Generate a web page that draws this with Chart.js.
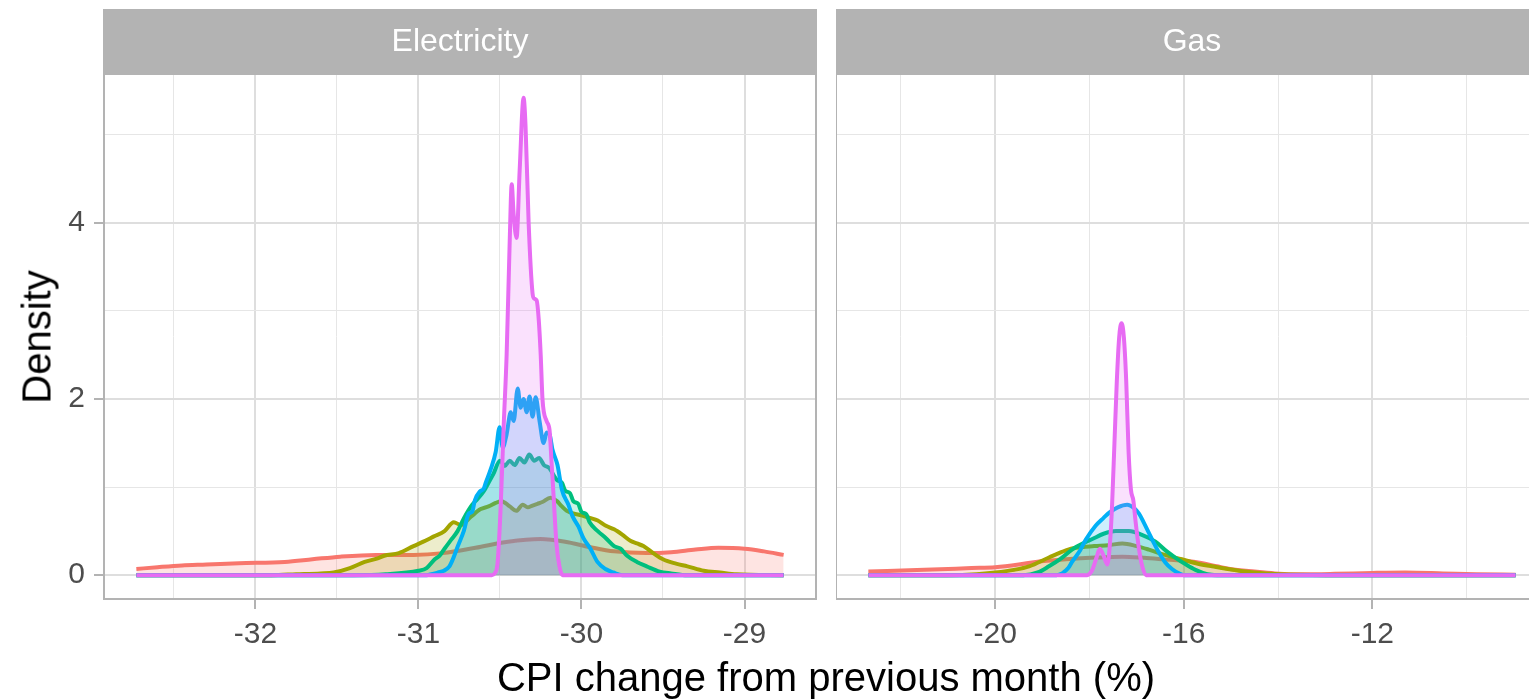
<!DOCTYPE html>
<html><head><meta charset="utf-8">
<script src="https://cdn.jsdelivr.net/npm/chart.js@4.4.1/dist/chart.umd.min.js"></script>
<style>
html,body{margin:0;padding:0;overflow:hidden;background:#fff;width:1529px;height:700px;}
#c1{position:absolute;left:0;top:0;}
#c2{position:absolute;left:836px;top:0;}
.t{position:absolute;font-family:"Liberation Sans",Arial,Helvetica,sans-serif;color:#000;white-space:nowrap;line-height:normal;}
</style></head><body>
<canvas id="c1" width="818" height="700"></canvas>
<canvas id="c2" width="722" height="700"></canvas>
<div class="t" style="left:826px;top:655px;font-size:40px;transform:translateX(-50%);">CPI change from previous month (%)</div>
<div class="t" style="left:37px;top:337px;font-size:40px;transform:translate(-50%,-50%) rotate(-90deg);">Density</div>
<script>
const FONT = '"Liberation Sans", Arial, Helvetica, sans-serif';
const seriesNames = ['Series 1','Series 2','Series 3','Series 4','Series 5'];
const seriesColors = ['#F8766D','#A3A500','#00BF7D','#00B0F6','#E76BF3'];
const panelTitles = ['Electricity','Gas'];

const elecTicksMajor = [-32,-31,-30,-29];
const elecTicksMinor = [-32.5,-31.5,-30.5,-29.5];
const gasTicksMajor = [-20,-16,-12];
const gasTicksMinor = [-22,-18,-14,-10];
const yTicksMajor = [0,2,4];
const yTicksMinor = [1,3,5];

// Electricity panel
const elecRedX = [-32.73,-32.6,-32.45,-32.3,-32.1,-31.82,-31.65,-31.48,-31.26,-31.03,-30.85,-30.65,-30.45,-30.25,-30.1,-29.95,-29.8,-29.6,-29.45,-29.3,-29.16,-29.0,-28.88,-28.76];
const elecRedY = [0.07,0.09,0.11,0.12,0.135,0.15,0.18,0.21,0.23,0.23,0.25,0.31,0.38,0.41,0.38,0.32,0.27,0.25,0.26,0.29,0.31,0.3,0.27,0.23];
const elecOliveX = [-32.73,-31.9,-31.75,-31.6,-31.52,-31.42,-31.33,-31.25,-31.21,-31.12,-31.03,-30.97,-30.905,-30.84,-30.783,-30.74,-30.68,-30.618,-30.57,-30.526,-30.49,-30.44,-30.40,-30.36,-30.33,-30.3,-30.27,-30.24,-30.19,-30.15,-30.12,-30.09,-30.05,-30.0,-29.95,-29.9,-29.85,-29.8,-29.75,-29.7,-29.66,-29.62,-29.56,-29.5,-29.42,-29.35,-29.25,-29.15,-29.05,-28.76];
const elecOliveY = [0,0,0.01,0.02,0.03,0.08,0.15,0.19,0.22,0.25,0.33,0.38,0.44,0.5,0.6,0.57,0.66,0.75,0.78,0.82,0.84,0.78,0.73,0.8,0.77,0.79,0.81,0.83,0.88,0.84,0.78,0.73,0.7,0.68,0.65,0.62,0.56,0.52,0.46,0.39,0.36,0.33,0.25,0.18,0.13,0.1,0.05,0.03,0.01,0];
const elecGreenX = [-32.73,-31.4,-31.2,-31.0,-30.95,-30.9,-30.87,-30.84,-30.8,-30.76,-30.72,-30.67,-30.64,-30.6,-30.57,-30.54,-30.5,-30.47,-30.44,-30.41,-30.38,-30.35,-30.32,-30.29,-30.26,-30.23,-30.2,-30.15,-30.12,-30.1,-30.07,-30.05,-30.02,-30.0,-29.97,-29.95,-29.9,-29.85,-29.8,-29.76,-29.72,-29.66,-29.6,-29.52,-29.45,-29.35,-28.76];
const elecGreenY = [0,0,0.01,0.05,0.08,0.18,0.22,0.3,0.4,0.5,0.65,0.8,0.86,0.95,1.05,1.15,1.3,1.24,1.3,1.25,1.33,1.28,1.37,1.3,1.33,1.25,1.22,1.08,1.05,0.96,0.93,0.84,0.81,0.72,0.69,0.6,0.5,0.42,0.33,0.3,0.22,0.15,0.1,0.04,0.02,0,0];
const elecBlueX = [-32.73,-30.95,-30.92,-30.88,-30.844,-30.81,-30.789,-30.758,-30.722,-30.691,-30.67,-30.654,-30.624,-30.6,-30.587,-30.557,-30.526,-30.502,-30.483,-30.459,-30.434,-30.416,-30.391,-30.373,-30.355,-30.336,-30.318,-30.3,-30.281,-30.257,-30.232,-30.214,-30.196,-30.177,-30.147,-30.12,-30.08,-30.055,-30.018,-29.988,-29.945,-29.902,-29.853,-29.804,-29.749,-28.76];
const elecBlueY = [0,0,0.01,0.03,0.05,0.1,0.18,0.33,0.5,0.7,0.72,0.85,0.95,0.98,1.05,1.2,1.4,1.68,1.45,1.6,1.85,1.75,2.12,1.9,2.0,1.85,2.03,1.8,2.02,1.75,1.5,1.62,1.6,1.42,1.25,0.97,0.8,0.67,0.55,0.42,0.3,0.15,0.07,0.03,0,0];
const elecPinkX = [-32.73,-30.55,-30.532,-30.514,-30.495,-30.477,-30.459,-30.44,-30.428,-30.416,-30.398,-30.379,-30.355,-30.343,-30.324,-30.3,-30.29,-30.275,-30.262,-30.25,-30.239,-30.214,-30.196,-30.184,-30.171,-30.153,-30.135,-30.116,-28.76];
const elecPinkY = [0,0,0.02,0.15,0.8,1.7,2.5,3.8,4.44,4.1,3.83,4.6,5.42,5.1,4.0,3.2,3.14,3.12,2.9,2.5,2.0,1.75,1.65,1.3,0.9,0.35,0.1,0,0];

// Gas panel
const gasRedX = [-22.69,-21.5,-20.5,-20.0,-19.5,-19.14,-18.5,-17.87,-17.3,-16.9,-16.46,-15.75,-15.3,-15.02,-14.5,-14.07,-13.5,-12.8,-12.0,-11.3,-10.5,-9.8,-8.96];
const gasRedY = [0.04,0.06,0.08,0.09,0.12,0.15,0.18,0.2,0.21,0.2,0.18,0.15,0.1,0.07,0.04,0.02,0.01,0.015,0.025,0.03,0.02,0.01,0.005];
const gasOliveX = [-22.69,-21.0,-20.4,-20.0,-19.6,-19.28,-18.86,-18.5,-18.29,-17.9,-17.6,-17.3,-17.0,-16.74,-16.4,-16.04,-15.7,-15.4,-14.83,-14.26,-13.6,-13.0,-8.96];
const gasOliveY = [0,0,0.01,0.03,0.06,0.1,0.2,0.28,0.31,0.33,0.34,0.36,0.33,0.29,0.23,0.18,0.13,0.1,0.05,0.02,0.005,0,0];
const gasGreenX = [-22.69,-19.4,-19.1,-18.86,-18.6,-18.37,-18.1,-17.94,-17.7,-17.44,-17.16,-16.9,-16.6,-16.36,-16.18,-15.95,-15.75,-15.5,-15.3,-8.96];
const gasGreenY = [0,0,0.03,0.1,0.19,0.29,0.37,0.41,0.47,0.5,0.5,0.46,0.38,0.27,0.2,0.12,0.06,0.01,0,0];
const gasBlueX = [-22.69,-18.7,-18.58,-18.45,-18.37,-18.2,-18.08,-17.87,-17.7,-17.58,-17.4,-17.2,-17.05,-16.95,-16.85,-16.74,-16.63,-16.53,-16.4,-16.25,-16.1,-16.0,-8.96];
const gasBlueY = [0,0,0.02,0.08,0.15,0.28,0.4,0.56,0.65,0.71,0.77,0.8,0.76,0.7,0.6,0.48,0.36,0.26,0.15,0.07,0.02,0,0];
const gasPinkX = [-22.69,-18.05,-17.95,-17.85,-17.78,-17.7,-17.62,-17.56,-17.52,-17.47,-17.42,-17.37,-17.32,-17.27,-17.22,-17.17,-17.12,-17.07,-17.02,-16.95,-16.89,-16.8,-8.96];
const gasPinkY = [0,0,0.05,0.2,0.3,0.22,0.12,0.4,0.8,1.5,2.2,2.7,2.86,2.7,2.2,1.4,0.97,0.85,0.6,0.3,0.12,0,0];

const elecXs = [elecRedX, elecOliveX, elecGreenX, elecBlueX, elecPinkX];
const elecYs = [elecRedY, elecOliveY, elecGreenY, elecBlueY, elecPinkY];
const gasXs = [gasRedX, gasOliveX, gasGreenX, gasBlueX, gasPinkX];
const gasYs = [gasRedY, gasOliveY, gasGreenY, gasBlueY, gasPinkY];

function expRange(arrs, incZero) {
  let mn = Infinity, mx = -Infinity;
  arrs.forEach(a => a.forEach(v => { mn = Math.min(mn, v); mx = Math.max(mx, v); }));
  if (incZero) mn = Math.min(mn, 0);
  const p = (mx - mn) * 0.05;
  return [mn - p, mx + p];
}
const elecRange = expRange(elecXs);
const gasRange = expRange(gasXs);
const yRange = expRange(elecYs.concat(gasYs), true);

function hexA(hex, a) {
  const n = parseInt(hex.slice(1), 16);
  return `rgba(${(n>>16)&255},${(n>>8)&255},${n&255},${a})`;
}
function makeDatasets(xs, ys) {
  return xs.map((xa, i) => ({
    label: seriesNames[i],
    data: xa.map((x, j) => ({x: x, y: ys[i][j]})),
    borderColor: seriesColors[i],
    backgroundColor: hexA(seriesColors[i], 0.2),
    borderWidth: 4,
    pointRadius: 0,
    pointHoverRadius: 0,
    fill: 'origin',
    cubicInterpolationMode: 'monotone',
    order: xs.length - i
  }));
}

const stripPlugin = {
  id: 'strip',
  beforeDraw(chart, args, opts) {
    const {ctx, chartArea: a} = chart;
    ctx.save();
    ctx.fillStyle = '#B3B3B3';
    ctx.fillRect(a.left - 1, 9, a.right - a.left + 2, a.top - 9);
    ctx.fillStyle = '#FFFFFF';
    ctx.font = '32px ' + FONT;
    ctx.textAlign = 'center';
    ctx.textBaseline = 'middle';
    ctx.fillText(opts.label, (a.left + a.right) / 2, 42);
    ctx.restore();
  },
  afterDatasetsDraw(chart) {
    const {ctx, chartArea: a} = chart;
    ctx.save();
    ctx.strokeStyle = '#B3B3B3';
    ctx.lineWidth = 2;
    ctx.strokeRect(a.left, a.top, a.right - a.left, a.bottom - a.top);
    ctx.restore();
  }
};

function isIn(arr, v) { return arr.some(m => Math.abs(m - v) < 1e-6); }

function xScale(range, major, minor) {
  const all = major.concat(minor).sort((a, b) => a - b);
  return {
    type: 'linear', min: range[0], max: range[1],
    afterBuildTicks: ax => { ax.ticks = all.map(v => ({value: v})); },
    afterFit: ax => { ax.height = 101; },
    ticks: {
      autoSkip: false, maxRotation: 0, padding: 8,
      color: '#4D4D4D', font: {size: 30, family: FONT},
      callback: v => isIn(major, v) ? String(v) : ''
    },
    grid: {
      color: c => (c.tick && isIn(major, c.tick.value)) ? '#DEDEDE' : '#E6E6E6',
      lineWidth: c => (c.tick && isIn(major, c.tick.value)) ? 2 : 1,
      tickLength: 10,
      tickColor: c => (c.tick && isIn(major, c.tick.value)) ? '#B3B3B3' : 'rgba(0,0,0,0)',
      tickWidth: 2
    },
    border: {display: false}
  };
}
function yScale(showLabels) {
  const all = yTicksMajor.concat(yTicksMinor).sort((a, b) => a - b);
  return {
    type: 'linear', min: yRange[0], max: yRange[1],
    afterBuildTicks: ax => { ax.ticks = all.map(v => ({value: v})); },
    afterFit: ax => { ax.width = showLabels ? 104 : 0; },
    ticks: {
      display: showLabels, autoSkip: false, padding: 9,
      color: '#4D4D4D', font: {size: 30, family: FONT},
      callback: v => isIn(yTicksMajor, v) ? String(v) : ''
    },
    grid: {
      color: c => (c.tick && isIn(yTicksMajor, c.tick.value)) ? '#DEDEDE' : '#E6E6E6',
      lineWidth: c => (c.tick && isIn(yTicksMajor, c.tick.value)) ? 2 : 1,
      drawTicks: showLabels,
      tickLength: 10,
      tickColor: c => (c.tick && isIn(yTicksMajor, c.tick.value)) ? '#B3B3B3' : 'rgba(0,0,0,0)',
      tickWidth: 2
    },
    border: {display: false}
  };
}

function makeChart(id, title, xs, ys, range, major, minor, showY, pad) {
  return new Chart(document.getElementById(id), {
    type: 'line',
    data: {datasets: makeDatasets(xs, ys)},
    options: {
      responsive: false, animation: false, devicePixelRatio: 1,
      layout: {padding: pad},
      plugins: {legend: {display: false}, tooltip: {enabled: false}, strip: {label: title}},
      scales: {x: xScale(range, major, minor), y: yScale(showY)}
    },
    plugins: [stripPlugin]
  });
}

makeChart('c1', panelTitles[0], elecXs, elecYs, elecRange, elecTicksMajor, elecTicksMinor, true, {top: 74, left: 0, right: 2, bottom: 0});
makeChart('c2', panelTitles[1], gasXs, gasYs, gasRange, gasTicksMajor, gasTicksMinor, false, {top: 74, left: 0, right: 10, bottom: 0});
</script>
</body></html>
